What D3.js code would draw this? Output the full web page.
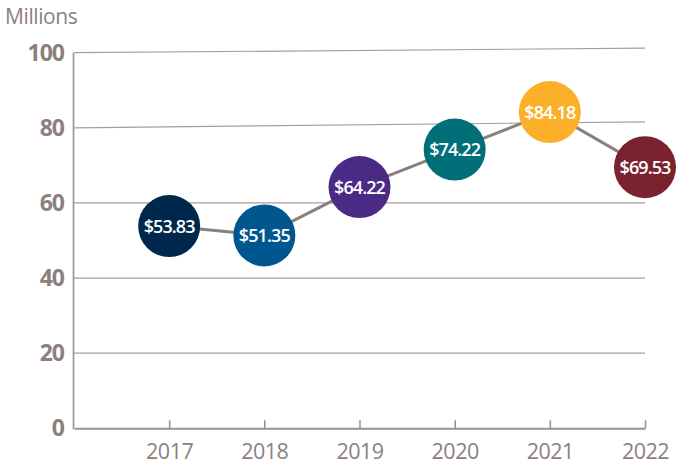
<!DOCTYPE html>
<html>
<head>
<meta charset="utf-8">
<script src="https://cdn.jsdelivr.net/npm/d3@7"></script>
<style>
  body { margin: 0; background: #fff; }
  text { font-family: "Open Sans", sans-serif; }
</style>
</head>
<body>
<div id="chart-area"></div>
<script>
var width = 676,
    height = 464;

// data
var years = ["2017", "2018", "2019", "2020", "2021", "2022"];
var values = [53.83, 51.35, 64.22, 74.22, 84.18, 69.53];
var dotColors = ["#00274c", "#00568f", "#4b2a85", "#006f78", "#fbb02a", "#7a232e"];
var yTicks = [0, 20, 40, 60, 80, 100];
// the top two gridlines in the original rise a little to the right
var gridTilt = [0, 0, 0, 0, 1.6, 1.2];

var grey = "#8c807e";

var svg = d3.select("#chart-area").append("svg")
    .attr("width", width)
    .attr("height", height);

// scales
var x = d3.scalePoint()
    .domain(["2016"].concat(years))
    .range([74, 645]);

var y = d3.scaleLinear()
    .domain([0, 100])
    .range([428.3, 52.7]);

// gridlines
svg.selectAll(".grid")
    .data(yTicks.slice(1))
    .enter()
    .append("line")
    .attr("class", "grid")
    .attr("x1", 74)
    .attr("x2", 645)
    .attr("y1", d => y(d))
    .attr("y2", (d, i) => y(d + gridTilt[i + 1]))
    .style("stroke", "#a89d9b")
    .style("stroke-width", 1.2);

// y axis line
svg.append("line")
    .attr("x1", 73.5).attr("x2", 73.5)
    .attr("y1", y(100)).attr("y2", y(0) + 1)
    .style("stroke", "#9d9290")
    .style("stroke-width", 1.6);

// y labels
svg.selectAll(".ylab")
    .data(yTicks)
    .enter()
    .append("text")
    .attr("class", "ylab")
    .attr("x", 64)
    .attr("y", d => y(d) + 8)
    .attr("text-anchor", "end")
    .style("font-size", "23px")
    .style("font-weight", "700")
    .style("letter-spacing", "-1px")
    .style("fill", grey)
    .text(d => d);

svg.append("text")
    .attr("x", 5)
    .attr("y", 24)
    .style("font-size", "21px")
    .style("letter-spacing", "-0.4px")
    .style("fill", grey)
    .text("Millions");

// x axis
var xAxis = svg.append("g")
    .attr("transform", "translate(0," + y(0) + ")")
    .call(d3.axisBottom(x).tickValues(years).tickSizeInner(-8).tickSizeOuter(0).tickPadding(15));

xAxis.select(".domain").style("stroke", "#9d9290").style("stroke-width", 2);
xAxis.selectAll(".tick line").style("stroke", "#9d9290").style("stroke-width", 1.6);
xAxis.selectAll(".tick text")
    .style("font-family", "'Open Sans', sans-serif")
    .style("font-size", "21.5px")
    .style("letter-spacing", "-0.5px")
    .style("fill", grey);

// connecting line
var pts = years.map((yr, i) => ({ year: yr, value: values[i], color: dotColors[i] }));

var line = d3.line()
    .x(d => x(d.year))
    .y(d => y(d.value));

svg.append("path")
    .datum(pts)
    .attr("d", line)
    .style("fill", "none")
    .style("stroke", grey)
    .style("stroke-width", 3);

// dots
svg.selectAll(".dot")
    .data(pts)
    .enter()
    .append("circle")
    .attr("class", "dot")
    .attr("cx", d => x(d.year))
    .attr("cy", d => y(d.value))
    .attr("r", 31)
    .style("fill", d => d.color);

svg.selectAll(".dotlab")
    .data(pts)
    .enter()
    .append("text")
    .attr("class", "dotlab")
    .attr("x", d => x(d.year))
    .attr("y", d => y(d.value) + 6.5)
    .attr("text-anchor", "middle")
    .style("font-size", "18px")
    .style("font-weight", "600")
    .style("letter-spacing", "-0.9px")
    .style("fill", "#fff")
    .text(d => "$" + d.value.toFixed(2));
</script>
</body>
</html>
